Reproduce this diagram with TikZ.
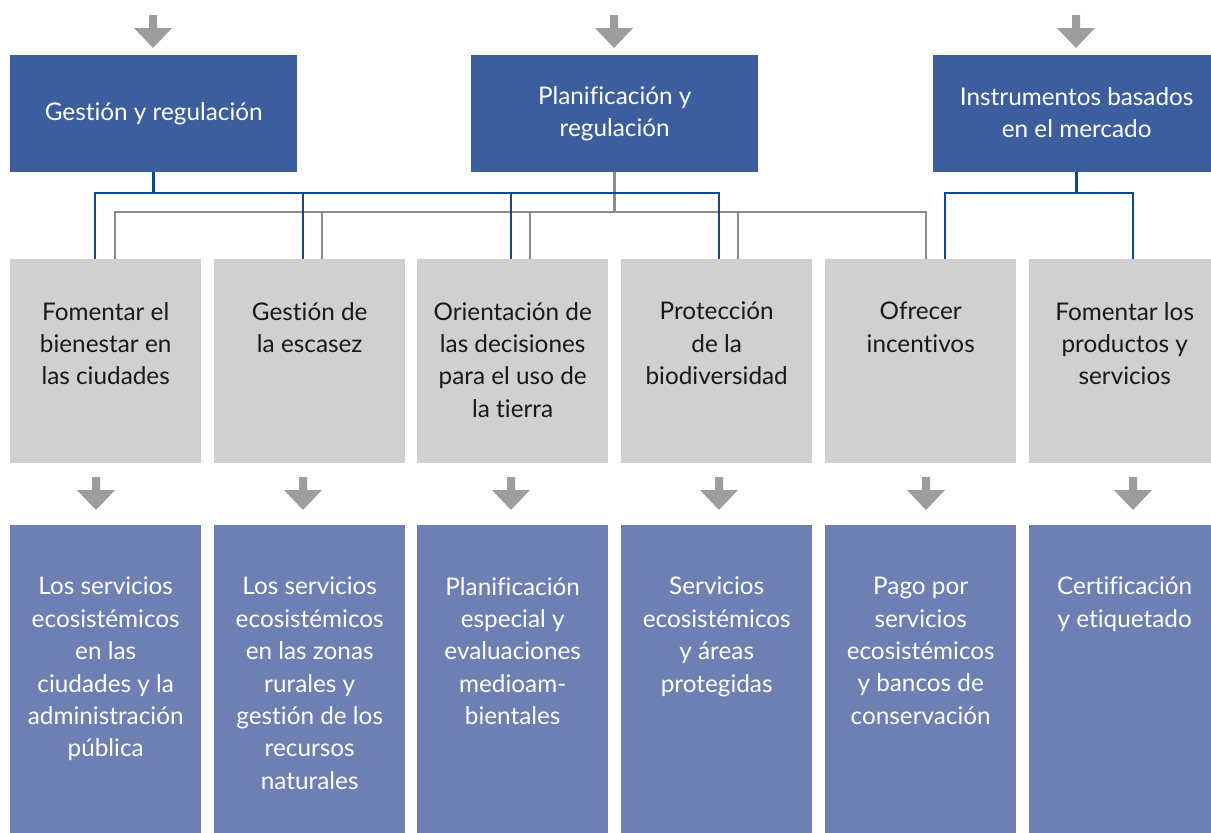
\documentclass[tikz,border=0pt]{standalone}
\usepackage{fontspec}
\setmainfont{Lato}[Ligatures=NoCommon]
\usetikzlibrary{calc}
\definecolor{topblue}{RGB}{60,94,158}
\definecolor{grayfill}{RGB}{208,208,208}
\definecolor{botblue}{RGB}{110,127,180}
\definecolor{arrowgray}{RGB}{157,157,157}
\definecolor{lineblue}{RGB}{14,72,146}
\definecolor{linegray}{RGB}{140,140,140}
\definecolor{textdark}{RGB}{25,25,25}
\begin{document}
\begin{tikzpicture}[x=1bp,y=-1bp,
  topbox/.style={fill=topblue,minimum width=287bp,minimum height=117bp,inner sep=0,anchor=north west},
  graybox/.style={fill=grayfill,minimum width=191bp,minimum height=204bp,inner sep=0,anchor=north west},
  botbox/.style={fill=botblue,minimum width=191bp,minimum height=320bp,inner sep=0,anchor=north west},
  txt/.style={align=center,font=\fontsize{24.4}{32.5}\selectfont,inner sep=0},
  toptxt/.style={txt,anchor=north,execute at begin node={\rule{0pt}{24bp}}},
  wtxt/.style={txt,text=white},
  ktxt/.style={txt,text=textdark},
  bl/.style={draw=lineblue,line width=2.8bp},
  gl/.style={draw=linegray,line width=2.5bp},
  darr/.pic={\fill[arrowgray] (-4,0) -- (4,0) -- (4,13) -- (19,13) -- (0,33) -- (-19,13) -- (-4,13) -- cycle;}
]
\useasboundingbox (0,0) rectangle (1211,833);

% top boxes
\node[topbox] (t1) at (10,55) {};
\node[topbox] (t2) at (471,55) {};
\node[topbox] (t3) at (933,55) {};
\node[wtxt] (t1l) at (t1.center) {Gestión y regulación};
\node[wtxt] (t2l) at (t2.center) {Planificación y\\regulación};
\node[wtxt] (t3l) at ($(t3.center)+(0,-1)$) {Instrumentos basados\\en el mercado};

% gray boxes
\node[graybox] (g1) at (10,259) {};
\node[graybox] (g2) at (214,259) {};
\node[graybox] (g3) at (417,259) {};
\node[graybox] (g4) at (621,259) {};
\node[graybox] (g5) at (825,259) {};
\node[graybox] (g6) at (1029,259) {};
\node[ktxt,toptxt] (g1l) at ($(g1.north)+(0,43)$) {Fomentar el\\bienestar en\\las ciudades};
\node[ktxt,toptxt] (g2l) at ($(g2.north)+(0,43)$) {Gestión de\\la escasez};
\node[ktxt,toptxt] (g3l) at ($(g3.north)+(0,43)$) {Orientación de\\las decisiones\\para el uso de\\la tierra};
\node[ktxt,toptxt] (g4l) at ($(g4.north)+(0,43)$) {Protección\\de la\\biodiversidad};
\node[ktxt,toptxt] (g5l) at ($(g5.north)+(0,43)$) {Ofrecer\\incentivos};
\node[ktxt,toptxt] (g6l) at ($(g6.north)+(0,43)$) {Fomentar los\\productos y\\servicios};

% bottom boxes
\node[botbox] (b1) at (10,525) {};
\node[botbox] (b2) at (214,525) {};
\node[botbox] (b3) at (417,525) {};
\node[botbox] (b4) at (621,525) {};
\node[botbox] (b5) at (825,525) {};
\node[botbox] (b6) at (1029,525) {};
\node[wtxt,toptxt] (b1l) at ($(b1.north)+(0,52)$) {Los servicios\\ecosistémicos\\en las\\ciudades y la\\administración\\pública};
\node[wtxt,toptxt] (b2l) at ($(b2.north)+(0,52)$) {Los servicios\\ecosistémicos\\en las zonas\\rurales y\\gestión de los\\recursos\\naturales};
\node[wtxt,toptxt] (b3l) at ($(b3.north)+(0,52)$) {Planificación\\especial y\\evaluaciones\\medioam-\\bientales};
\node[wtxt,toptxt] (b4l) at ($(b4.north)+(0,52)$) {Servicios\\ecosistémicos\\y áreas\\protegidas};
\node[wtxt,toptxt] (b5l) at ($(b5.north)+(0,52)$) {Pago por\\servicios\\ecosistémicos\\y bancos de\\conservación};
\node[wtxt,toptxt] (b6l) at ($(b6.north)+(0,52)$) {Certificación\\y etiquetado};

% bus coordinates
\coordinate (d1g) at (115,212);
\coordinate (d2g) at (322,212);
\coordinate (d3g) at (530,212);
\coordinate (d4g) at (738,212);
\coordinate (d5g) at (926,212);
\coordinate (d1b) at (95,193);
\coordinate (d2b) at (303,193);
\coordinate (d3b) at (511,193);
\coordinate (d4b) at (719,193);
\coordinate (d5b) at (945,193);
\coordinate (d6b) at (1133,193);

% gray connectors (from t2)
\draw[gl] (t2.south) -- (t2.south |- d1g);
\draw[gl] (d1g |- g1.north) -- (d1g) -- (d5g) -- (d5g |- g5.north);
\draw[gl] (d2g) -- (d2g |- g2.north);
\draw[gl] (d3g) -- (d3g |- g3.north);
\draw[gl] (d4g) -- (d4g |- g4.north);

% blue connectors (from t1)
\draw[bl] (t1.south) -- (t1.south |- d1b);
\draw[bl] (d1b |- g1.north) -- (d1b) -- (d4b) -- (d4b |- g4.north);
\draw[bl] (d2b) -- (d2b |- g2.north);
\draw[bl] (d3b) -- (d3b |- g3.north);

% blue connectors (from t3)
\draw[bl] (t3.south) -- (t3.south |- d5b);
\draw[bl] (d5b |- g5.north) -- (d5b) -- (d6b) -- (d6b |- g6.north);

% arrows
\pic at (153,15) {darr};
\pic at (614,15) {darr};
\pic at (1076,15) {darr};
\pic at (96,477) {darr};
\pic at (303,477) {darr};
\pic at (511,477) {darr};
\pic at (719,477) {darr};
\pic at (926,477) {darr};
\pic at (1133,477) {darr};
\end{tikzpicture}
\end{document}
